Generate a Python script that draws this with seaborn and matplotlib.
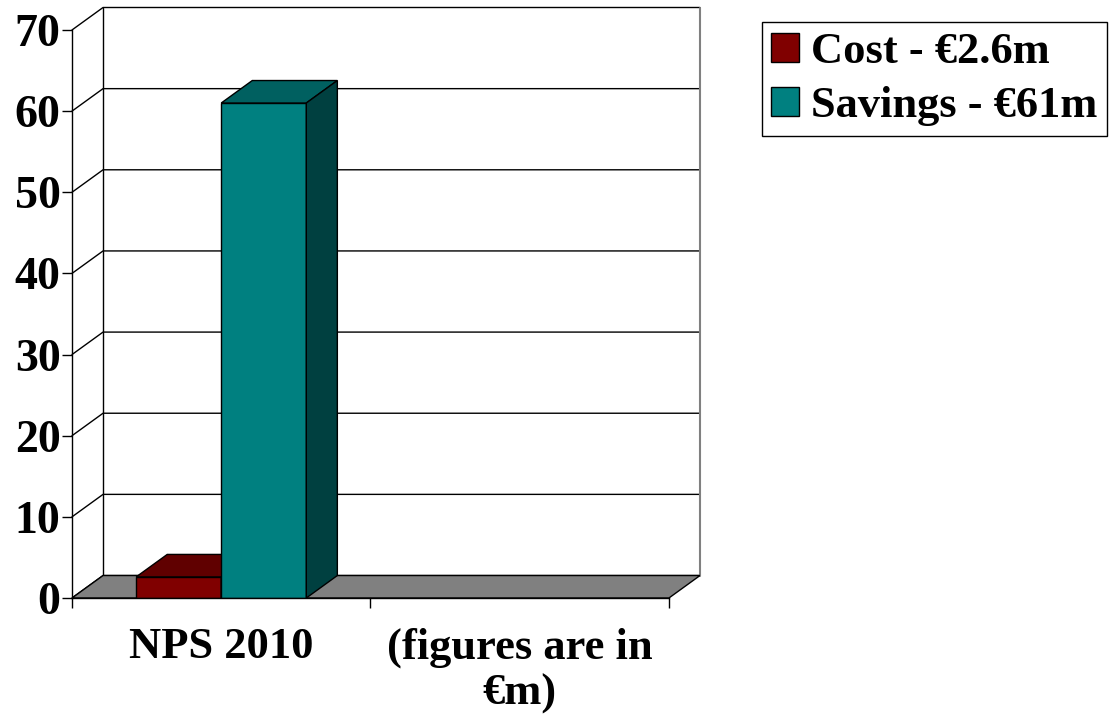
import numpy as np
import pandas as pd
import seaborn as sns
import matplotlib
matplotlib.use("Agg")
import matplotlib.pyplot as plt
from matplotlib.patches import Polygon, Patch

# chart data
categories = ["NPS 2010", "(figures are in\n€m)"]
series = ["Cost", "Savings"]
legend_labels = ["Cost - €2.6m", "Savings - €61m"]
values = [2.6, 61.0]
front_colors = ["#800000", "#008080"]
top_colors = ["#600000", "#006060"]
side_colors = ["#600000", "#004040"]
y_ticks = [0, 10, 20, 30, 40, 50, 60, 70]

df = pd.DataFrame({"category": [categories[0]] * len(series), "series": series, "value": values})

sns.set_style("white")
plt.rcParams["font.family"] = ["Liberation Serif", "DejaVu Serif"]
plt.rcParams["font.weight"] = "bold"
for key in ["text.color", "axes.labelcolor", "xtick.color", "ytick.color"]:
    plt.rcParams[key] = "black"

fig = plt.figure(figsize=(11.12, 7.21), dpi=100)
# axes box = front plane plus the depth of the back wall
ax = fig.add_axes([72 / 1112, 1 - 598 / 721, 628 / 1112, 590.5 / 721])

sns.barplot(data=df, x="category", y="value", hue="series", order=categories,
            hue_order=series, palette=front_colors, width=0.57, saturation=1,
            edgecolor="black", linewidth=1, errorbar=None, legend=False, ax=ax)

x0, x1 = -0.5, len(categories) - 0.5
ymax = y_ticks[-1]
dx = 0.104   # depth offset in category units
dy = 2.77    # depth offset in value units
ax.set_xlim(x0, x1 + dx)
ax.set_ylim(0, ymax + dy)

bars = list(ax.patches)

# floor
ax.add_patch(Polygon([(x0, 0), (x1, 0), (x1 + dx, dy), (x0 + dx, dy)], closed=True,
                     facecolor="#808080", edgecolor="black", linewidth=1, zorder=2))

# walls and gridlines
for v in y_ticks:
    ax.plot([x0, x0 + dx, x1 + dx], [v, v + dy, v + dy], color="black", lw=1,
            zorder=1, clip_on=False)
ax.plot([x0 + dx, x0 + dx], [dy, ymax + dy], color="black", lw=1, zorder=1, clip_on=False)
ax.plot([x1 + dx, x1 + dx], [dy, ymax + dy], color="#808080", lw=1.5, zorder=1, clip_on=False)

# 3d faces of the bars
for i, bar in enumerate(bars):
    x, w, h = bar.get_x(), bar.get_width(), bar.get_height()
    z = 3 + i * 0.1
    bar.set_zorder(z)
    ax.add_patch(Polygon([(x, h), (x + w, h), (x + w + dx, h + dy), (x + dx, h + dy)],
                         closed=True, facecolor=top_colors[i], edgecolor="black",
                         linewidth=1, zorder=z + 0.01))
    ax.add_patch(Polygon([(x + w, 0), (x + w + dx, dy), (x + w + dx, h + dy), (x + w, h)],
                         closed=True, facecolor=side_colors[i], edgecolor="black",
                         linewidth=1, zorder=z + 0.02))

# axes
for s in ["top", "right"]:
    ax.spines[s].set_visible(False)
ax.spines["left"].set_bounds(0, ymax)
ax.spines["bottom"].set_bounds(x0, x1)
for s in ["left", "bottom"]:
    ax.spines[s].set_color("black")
    ax.spines[s].set_linewidth(1)
    ax.spines[s].set_zorder(5)

ax.set_yticks(y_ticks)
ax.set_yticklabels([str(v) for v in y_ticks])
ax.tick_params(axis="y", direction="out", length=7.2, width=1, color="black",
               labelsize=33, pad=1, left=True)
ax.set_xticks(range(len(categories)))
ax.set_xticklabels(categories, linespacing=1.2)
ax.set_xticks(np.arange(x0, x1 + 0.01, 1.0), minor=True)
ax.tick_params(axis="x", which="major", length=0, labelsize=32, pad=21)
ax.tick_params(axis="x", which="minor", direction="out", length=7.2, width=1,
               color="black", bottom=True)
ax.set_xlabel("")
ax.set_ylabel("")
for lab in ax.get_xticklabels() + ax.get_yticklabels():
    lab.set_fontweight("bold")

handles = [Patch(facecolor=c, edgecolor="black", linewidth=1) for c in front_colors]
leg = fig.legend(handles, legend_labels, loc="upper right",
                 bbox_to_anchor=(1107 / 1112, 1 - 22 / 721), fancybox=False,
                 edgecolor="black", framealpha=1, borderpad=0.22, borderaxespad=0,
                 handlelength=0.62, handleheight=0.62, handletextpad=0.27,
                 labelspacing=0.32, prop={"size": 32, "weight": "bold"})
leg.get_frame().set_linewidth(1)

fig.savefig("out.png", dpi=100)
